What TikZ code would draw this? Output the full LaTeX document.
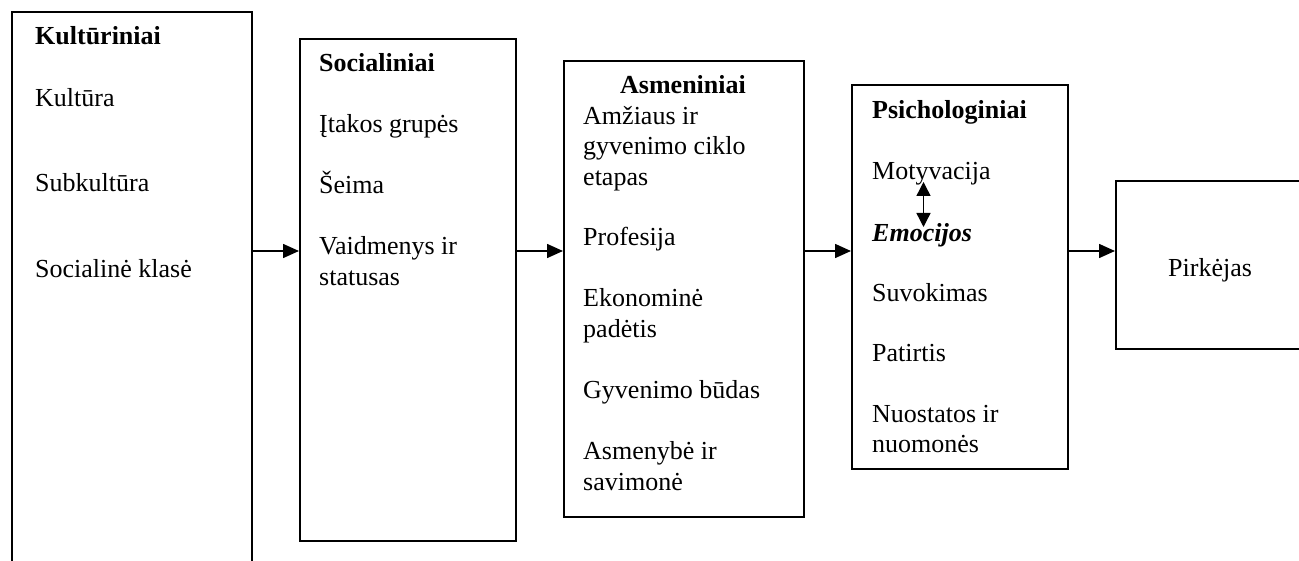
\documentclass[tikz,border=0pt]{standalone}
\usepackage{fontspec}
\setmainfont{Liberation Serif}
\usetikzlibrary{arrows.meta}
\begin{document}
\begin{tikzpicture}[x=1pt,y=-1pt,
  box/.style={draw,line width=1.8pt,rectangle,anchor=north west,inner sep=0pt},
  item/.style={anchor=base west,inner sep=0pt,align=left,
    font=\fontsize{26}{30.5}\selectfont},
  head/.style={item,font=\fontsize{26}{30.5}\selectfont\bfseries},
  flow/.style={line width=1.6pt,-{Triangle[length=16pt,width=14pt]}},
  both/.style={line width=1.4pt,{Triangle[length=14pt,width=14pt]}-{Triangle[length=14pt,width=14pt]}}]
\useasboundingbox (0,0) rectangle (1299,561);
\fill[white] (0,0) rectangle (1299,561);

% the five boxes
\node[box,minimum width=240pt,minimum height=600pt] (b1) at (11,11) {};
\node[box,minimum width=216pt,minimum height=502pt] (b2) at (299,38) {};
\node[box,minimum width=240pt,minimum height=456pt] (b3) at (563,60) {};
\node[box,minimum width=216pt,minimum height=384pt] (b4) at (851,84) {};
\node[box,minimum width=240pt,minimum height=168pt] (b5) at (1115,180) {};

% Kultūriniai (multi-line items sit on the baseline of their last line)
\node[head] (k0) at (35,45) {Kultūriniai};
\node[item] (k1) at (35,107) {Kultūra};
\node[item] (k2) at (35,192) {Subkultūra};
\node[item] (k3) at (35,278) {Socialinė klasė};

% Socialiniai
\node[head] (s0) at (319,72) {Socialiniai};
\node[item] (s1) at (319,133) {Įtakos grupės};
\node[item] (s2) at (319,194) {Šeima};
\node[item] (s3) at (319,285.5) {Vaidmenys ir\\statusas};

% Asmeniniai
\node[head,anchor=base] (a0) at (683,94) {Asmeniniai};
\node[item] (a1) at (583,185.5) {Amžiaus ir\\gyvenimo ciklo\\etapas};
\node[item] (a2) at (583,246) {Profesija};
\node[item] (a3) at (583,337.5) {Ekonominė\\padėtis};
\node[item] (a4) at (583,398.5) {Gyvenimo būdas};
\node[item] (a5) at (583,490) {Asmenybė ir\\savimonė};

% Psichologiniai
\node[head] (p0) at (872,119) {Psichologiniai};
\node[item] (p1) at (872,180) {Motyvacija};
\node[item,font=\fontsize{26}{30.5}\selectfont\bfseries\itshape] (p2) at (872,242) {Emocijos};
\node[item] (p3) at (872,302) {Suvokimas};
\node[item] (p4) at (872,362) {Patirtis};
\node[item] (p5) at (872,452.5) {Nuostatos ir\\nuomonės};

% Pirkėjas
\node[item] (r0) at (1168,277) {Pirkėjas};

% connectors
\coordinate (ay) at (0,251);
\draw[flow] (b1.east |- ay) -- (b2.west |- ay);
\draw[flow] (b2.east |- ay) -- (b3.west |- ay);
\draw[flow] (b3.east |- ay) -- (b4.west |- ay);
\draw[flow] (b4.east |- ay) -- (b5.west |- ay);

\coordinate (m1) at (923.5,182);
\coordinate (m2) at (923.5,227);
\draw[both] (m1) -- (m2);
\end{tikzpicture}
\end{document}
